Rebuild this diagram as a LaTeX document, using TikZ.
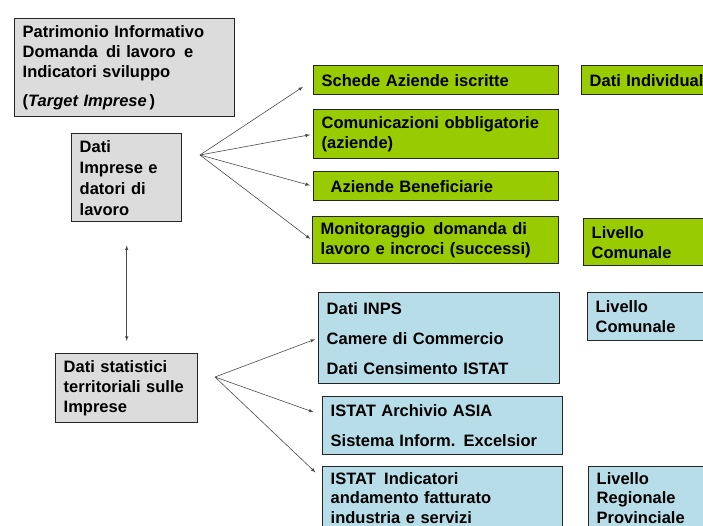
\documentclass[tikz,border=0pt]{standalone}
\usepackage{fontspec}
\setmainfont{Liberation Sans}
\usetikzlibrary{arrows,positioning}
\definecolor{grigio}{HTML}{DCDCDC}
\definecolor{verde}{HTML}{99CC00}
\definecolor{azzurro}{HTML}{B7DEE8}
\tikzset{
  basic/.style   = {draw=black!85, line width=1.4pt, anchor=north west, inner xsep=8pt,
                    inner ysep=0pt, align=left, font=\bfseries\fontsize{16.5}{20}\selectfont},
  grey box/.style  = {basic, fill=grigio},
  green box/.style = {basic, fill=verde},
  blue box/.style  = {basic, fill=azzurro},
  freccia/.style = {-latex, draw=black!70, line width=0.6pt}
}

\begin{document}
\begin{tikzpicture}[x=1pt,y=-1pt]
\useasboundingbox (0,0) rectangle (703,526);
\clip (0,0) rectangle (703,526);
\fill[white] (0,0) rectangle (703,526);

% sinistra: fonti
\node[grey box, minimum width=220pt, minimum height=98pt, text width=204pt] (patrimonio) at (14,18)
  {Patrimonio Informativo\\ Domanda \,di lavoro \,e\\ Indicatori sviluppo\\[9pt] (\textit{Target Imprese\,})};
\node[grey box, minimum width=110pt, minimum height=88pt, text width=94pt,
      font=\bfseries\fontsize{16.5}{21}\selectfont] (imprese) at (71,133)
  {Dati\\ Imprese e\\ datori di\\ lavoro};
\node[grey box, minimum width=142pt, minimum height=69pt, text width=126pt] (statistici) at (55,353)
  {Dati statistici\\ territoriali sulle\\ Imprese};

% archivi imprese
\node[green box, minimum width=245pt, minimum height=29pt, text width=229pt] (schede) at (313,65)
  {Schede Aziende iscritte};
\node[green box, minimum width=245pt, minimum height=49pt, text width=229pt] (comunicazioni) at (313,109)
  {Comunicazioni obbligatorie\\ (aziende)};
\node[green box, minimum width=245pt, minimum height=29pt, text width=229pt] (beneficiarie) at (313,171)
  {\hspace{9pt}Aziende Beneficiarie};
\node[green box, minimum width=246pt, minimum height=47pt, text width=230pt] (monitoraggio) at (312,216)
  {Monitoraggio \,domanda di\\ lavoro e incroci (successi)};
\node[green box, minimum width=160pt, minimum height=29pt, text width=144pt] (individuali) at (581,65)
  {Dati Individuali};
\node[green box, minimum width=160pt, minimum height=47pt, text width=144pt] (comunaleA) at (583,218)
  {Livello\\ Comunale};

% fonti statistiche
\node[blue box, minimum width=241pt, minimum height=91pt, text width=225pt] (inps) at (318,292)
  {Dati INPS\\[10pt] Camere di Commercio\\[10pt] Dati Censimento ISTAT};
\node[blue box, minimum width=240pt, minimum height=58pt, text width=224pt] (archivio) at (322,396)
  {ISTAT Archivio ASIA\\[10pt] Sistema Inform. Excelsior};
\node[blue box, minimum width=240pt, minimum height=62pt, text width=224pt,
      font=\bfseries\fontsize{16.5}{19.5}\selectfont] (indicatori) at (322,466)
  {ISTAT \,Indicatori\\ andamento fatturato\\ industria e servizi};
\node[blue box, minimum width=160pt, minimum height=48pt, text width=144pt] (comunaleB) at (587,292)
  {Livello\\ Comunale};
\node[blue box, minimum width=160pt, minimum height=62pt, text width=144pt,
      font=\bfseries\fontsize{16.5}{19.5}\selectfont] (regionale) at (588,466)
  {Livello\\ Regionale\\ Provinciale};

% ventagli di frecce
\coordinate (ventoA) at (200,155);
\coordinate (ventoB) at (215,377);
\draw[freccia, shorten >=12pt] (ventoA) -- (schede.west);
\draw[freccia, shorten >=3pt] (ventoA) -- (comunicazioni.west);
\draw[freccia, shorten >=3pt] (ventoA) -- (beneficiarie.west);
\draw[freccia, shorten >=2pt] (ventoA) -- (monitoraggio.west);
\draw[freccia, shorten >=3pt] (ventoB) -- (inps.west);
\draw[freccia, shorten >=9pt] (ventoB) -- (archivio.175);
\draw[freccia, shorten >=9pt] (ventoB) -- (indicatori.171);

\draw[freccia, latex-latex, shorten <=23pt, shorten >=12pt] (imprese.south) -- (statistici.north);
\end{tikzpicture}
\end{document}
